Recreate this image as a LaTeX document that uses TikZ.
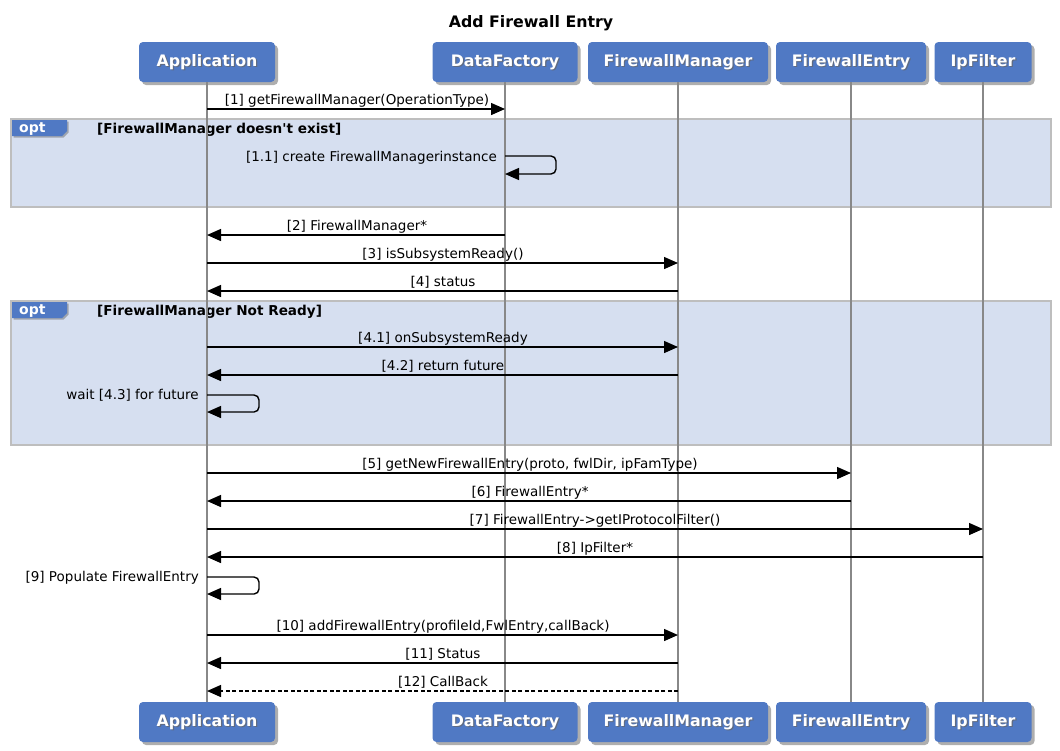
\documentclass[tikz,border=0pt]{standalone}
\usepackage{fontspec}
\setmainfont{DejaVu Sans}[Ligatures=TeXOff]
\usetikzlibrary{arrows.meta,shadows,calc}
\definecolor{pblue}{RGB}{80,121,196}
\definecolor{optfill}{RGB}{214,223,240}
\definecolor{optborder}{RGB}{190,190,190}
\definecolor{lifegray}{RGB}{136,136,136}
\tikzset{
  part/.style={fill=pblue, rounded corners=4pt, minimum height=40pt, inner sep=0pt,
    drop shadow={shadow xshift=3pt, shadow yshift=-3pt, opacity=0.45, fill=black!70}},
  pname/.style={font=\fontsize{15.8}{18}\selectfont\bfseries, text=white},
  pshadow/.style={font=\fontsize{15.8}{18}\selectfont\bfseries, text=black!60, opacity=0.7},
  life/.style={draw=lifegray, line width=1.5pt},
  msg/.style={draw=black, line width=1.4pt, -{Triangle[length=14pt,width=12pt]}},
  dmsg/.style={msg, dash pattern=on 4pt off 2.5pt},
  lbl/.style={font=\fontsize{13.5}{15}\selectfont, inner sep=0pt, anchor=base},
  lblr/.style={font=\fontsize{13.5}{15}\selectfont, inner sep=0pt, anchor=base east},
  optbox/.style={fill=optfill, draw=optborder, line width=1.5pt},
  cond/.style={font=\fontsize{13.6}{15}\selectfont\bfseries, inner sep=0pt, anchor=base west},
  optlbl/.style={font=\fontsize{14}{15}\selectfont\bfseries, text=white, inner sep=0pt, anchor=base west},
}
\begin{document}
\begin{tikzpicture}[x=1pt,y=-1pt]
\useasboundingbox (0,0) rectangle (1060,750);
% title
\node[font=\fontsize{15.8}{18}\selectfont\bfseries, anchor=base] (title) at (531,27) {Add Firewall Entry};
% opt frames
\draw[optbox] (11,119) rectangle (1051,207);
\draw[optbox] (11,301) rectangle (1051,445);
\foreach \yy/\nm in {119/a,301/b} {
  \fill[pblue, drop shadow={shadow xshift=1.5pt, shadow yshift=-1.5pt, opacity=0.4, fill=black!70}]
    (12,\yy+1) -- (67,\yy+1) -- (67,\yy+12) -- (62,\yy+17) -- (12,\yy+17) -- cycle;
  \node[optlbl] (opt\nm) at (19,\yy+13) {opt};
}
\node[cond] (c1) at (97,133) {[FirewallManager doesn't exist]};
\node[cond] (c2) at (97,315) {[FirewallManager Not Ready]};
% participants
\foreach \nm/\cx/\w/\txt in {app/207/136/Application, df/505/145/DataFactory, fm/678/180/FirewallManager, fe/851/150/FirewallEntry, ip/983/97/IpFilter} {
  \node[part, minimum width=\w pt] (\nm top) at (\cx,62) {};
  \node[pshadow] at (\cx+1.2,62+1.2) {\txt};
  \node[pname] at (\cx,62) {\txt};
  \node[part, minimum width=\w pt] (\nm bot) at (\cx,722) {};
  \node[pshadow] at (\cx+1.2,722+1.2) {\txt};
  \node[pname] at (\cx,722) {\txt};
  \draw[life] (\nm top.south) -- (\nm bot.north);
}
% coordinates on lifelines
\def\app{207}\def\df{505}\def\fm{678}\def\fe{851}\def\ip{983}
% messages
\coordinate (m1a) at (\app,109); \coordinate (m1b) at (\df,109);
\draw[msg] (m1a) -- (m1b);
\node[lbl] at (357,104) {[1] getFirewallManager(OperationType)};
% 1.1 self
\coordinate (s1a) at (\df,156); \coordinate (s1b) at (\df,174);
\draw[msg, rounded corners=5pt] (s1a) -- ++(51,0) |- (s1b);
\node[lblr] at (497,161) {[1.1] create FirewallManagerinstance};
% 2
\coordinate (m2a) at (\df,235); \coordinate (m2b) at (\app,235);
\draw[msg] (m2a) -- (m2b);
\node[lbl] at (357,230) {[2] FirewallManager*};
% 3
\coordinate (m3a) at (\app,263); \coordinate (m3b) at (\fm,263);
\draw[msg] (m3a) -- (m3b);
\node[lbl] at (443,258) {[3] isSubsystemReady()};
% 4
\coordinate (m4a) at (\fm,291); \coordinate (m4b) at (\app,291);
\draw[msg] (m4a) -- (m4b);
\node[lbl] at (443,286) {[4] status};
% 4.1
\coordinate (m41a) at (\app,347); \coordinate (m41b) at (\fm,347);
\draw[msg] (m41a) -- (m41b);
\node[lbl] at (443,342) {[4.1] onSubsystemReady};
% 4.2
\coordinate (m42a) at (\fm,375); \coordinate (m42b) at (\app,375);
\draw[msg] (m42a) -- (m42b);
\node[lbl] at (443,370) {[4.2] return future};
% 4.3 self
\coordinate (s43a) at (\app,395); \coordinate (s43b) at (\app,412);
\draw[msg, rounded corners=5pt] (s43a) -- ++(52,0) |- (s43b);
\node[lblr] at (199,399) {wait [4.3] for future};
% 5
\coordinate (m5a) at (\app,473); \coordinate (m5b) at (\fe,473);
\draw[msg] (m5a) -- (m5b);
\node[lbl] at (530,468) {[5] getNewFirewallEntry(proto, fwlDir, ipFamType)};
% 6
\coordinate (m6a) at (\fe,501); \coordinate (m6b) at (\app,501);
\draw[msg] (m6a) -- (m6b);
\node[lbl] at (530,496) {[6] FirewallEntry*};
% 7
\coordinate (m7a) at (\app,529); \coordinate (m7b) at (\ip,529);
\draw[msg] (m7a) -- (m7b);
\node[lbl] at (595,524) {[7] FirewallEntry->getIProtocolFilter()};
% 8
\coordinate (m8a) at (\ip,557); \coordinate (m8b) at (\app,557);
\draw[msg] (m8a) -- (m8b);
\node[lbl] at (595,552) {[8] IpFilter*};
% 9 self
\coordinate (s9a) at (\app,577); \coordinate (s9b) at (\app,594);
\draw[msg, rounded corners=5pt] (s9a) -- ++(52,0) |- (s9b);
\node[lblr] at (199,581) {[9] Populate FirewallEntry};
% 10
\coordinate (m10a) at (\app,635); \coordinate (m10b) at (\fm,635);
\draw[msg] (m10a) -- (m10b);
\node[lbl] at (443,630) {[10] addFirewallEntry(profileId,FwlEntry,callBack)};
% 11
\coordinate (m11a) at (\fm,663); \coordinate (m11b) at (\app,663);
\draw[msg] (m11a) -- (m11b);
\node[lbl] at (443,658) {[11] Status};
% 12
\coordinate (m12a) at (\fm,691); \coordinate (m12b) at (\app,691);
\draw[dmsg] (m12a) -- (m12b);
\node[lbl] at (443,686) {[12] CallBack};
\end{tikzpicture}
\end{document}
